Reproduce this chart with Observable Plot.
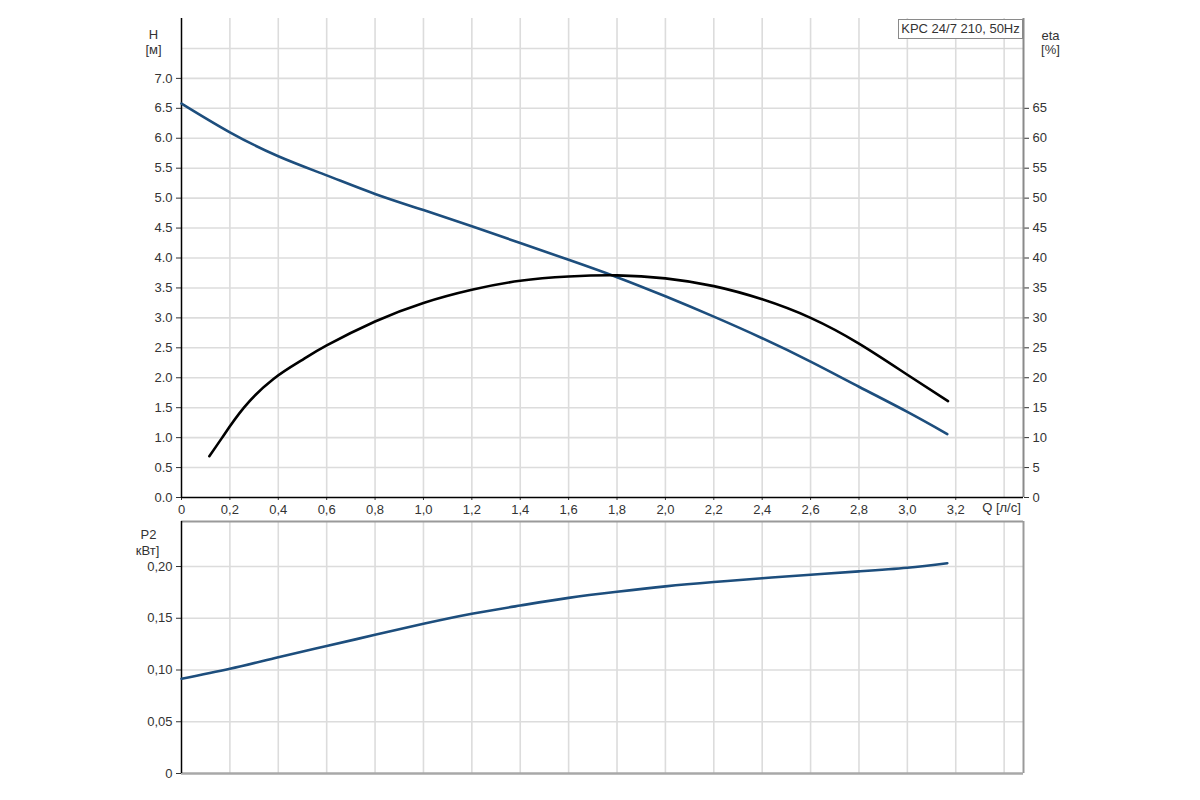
<!DOCTYPE html>
<html>
<head>
<meta charset="utf-8">
<script src="https://cdn.jsdelivr.net/npm/d3@7"></script>
<script src="https://cdn.jsdelivr.net/npm/@observablehq/plot@0.6"></script>
<style>
  html, body { margin: 0; padding: 0; background: #fff; }
  #wrap { position: relative; width: 1200px; height: 800px; font-family: "Liberation Sans", Arial, sans-serif; }
  #wrap svg { display: block; }
  #legend { position: absolute; z-index: 2; left: 898px; top: 19px; width: 125px; height: 20px; box-sizing: border-box;
    border: 1px solid #8a8a8a; background: #fff; font-size: 13px; color: #333; line-height: 18px; text-align: center; white-space: nowrap; }
</style>
</head>
<body>
<div id="wrap"><div id="legend">KPC 24/7 210, 50Hz</div></div>
<script>
// ---- data ----
const qH   = [0, 0.2, 0.4, 0.6, 0.8, 1.0, 1.2, 1.4, 1.6, 1.8, 2.0, 2.2, 2.4, 2.6, 2.8, 3.0, 3.165];
const headH = [6.58, 6.10, 5.70, 5.38, 5.07, 4.80, 4.53, 4.25, 3.97, 3.68, 3.36, 3.02, 2.66, 2.27, 1.85, 1.43, 1.06];

const qEta = [0.115, 0.168, 0.258, 0.38, 0.5, 0.6, 0.8, 1.0, 1.2, 1.4, 1.6, 1.8, 2.0, 2.2, 2.4, 2.6, 2.8, 3.0, 3.168];
const eta  = [6.9, 10.0, 15.0, 19.8, 23.0, 25.4, 29.4, 32.5, 34.7, 36.2, 36.9, 37.1, 36.6, 35.3, 33.1, 30.0, 25.7, 20.5, 16.1];

const qP2 = [0, 0.2, 0.4, 0.6, 0.8, 1.0, 1.2, 1.4, 1.6, 1.8, 2.0, 2.2, 2.4, 2.6, 2.8, 3.0, 3.165];
const p2  = [0.0915, 0.1012, 0.1124, 0.1232, 0.1340, 0.1446, 0.1543, 0.1623, 0.1697, 0.1756, 0.1808, 0.1850, 0.1887, 0.1921, 0.1953, 0.1988, 0.2032];

const qTicks   = [0, 0.2, 0.4, 0.6, 0.8, 1.0, 1.2, 1.4, 1.6, 1.8, 2.0, 2.2, 2.4, 2.6, 2.8, 3.0, 3.2];
const qGrid    = [0.2, 0.4, 0.6, 0.8, 1.0, 1.2, 1.4, 1.6, 1.8, 2.0, 2.2, 2.4, 2.6, 2.8, 3.0, 3.2, 3.4];
const hTicks   = [0, 0.5, 1.0, 1.5, 2.0, 2.5, 3.0, 3.5, 4.0, 4.5, 5.0, 5.5, 6.0, 6.5, 7.0];
const hGrid    = [0.5, 1.0, 1.5, 2.0, 2.5, 3.0, 3.5, 4.0, 4.5, 5.0, 5.5, 6.0, 6.5, 7.0, 7.5];
const etaTicks = [0, 5, 10, 15, 20, 25, 30, 35, 40, 45, 50, 55, 60, 65];
const p2Ticks  = [0, 0.05, 0.10, 0.15, 0.20];

const qMax = 3.48, hMax = 8.0, p2Max = 0.2435;
const etaPerH = 10; // eta [%] axis = H [m] * 10

const H = qH.map((q, i) => ({q, v: headH[i]}));
const E = qEta.map((q, i) => ({q, v: eta[i]}));
const P = qP2.map((q, i) => ({q, v: p2[i]}));

const comma = (d, n) => d === 0 ? "0" : d.toFixed(n).replace(".", ",");
const gridColor = "#dcdcdc";
const blue = "#1d4e7d";
const style = {fontFamily: "'Liberation Sans', Arial, sans-serif", fontSize: "13px", color: "#333", background: "#fff"};
const lbl = {fill: "#333", textAnchor: "middle", fontSize: 13};

const chartTop = Plot.plot({
  width: 1200, height: 520,
  marginLeft: 181, marginRight: 177, marginTop: 18, marginBottom: 23,
  style,
  x: {domain: [0, qMax]},
  y: {domain: [0, hMax]},
  marks: [
    Plot.gridX(qGrid, {stroke: gridColor, strokeOpacity: 1, strokeWidth: 1.6}),
    Plot.gridY(hGrid, {stroke: gridColor, strokeOpacity: 1, strokeWidth: 1.6}),
    Plot.axisX(qTicks, {tickFormat: d => comma(d, 1), tickSize: 3, tickPadding: 4, label: null}),
    Plot.axisY(hTicks, {tickFormat: d => d.toFixed(1), tickSize: 5, tickPadding: 4, label: null}),
    Plot.axisY(etaTicks.map(e => e / etaPerH), {anchor: "right", tickFormat: d => String(Math.round(d * etaPerH)), tickSize: 5, tickPadding: 4, label: null}),
    Plot.ruleX([qMax], {stroke: "#8a8a8a", strokeWidth: 2}),
    Plot.ruleX([0], {stroke: "#000", strokeWidth: 1.5}),
    Plot.ruleY([0], {stroke: "#000", strokeWidth: 1.5}),
    Plot.line(H, {x: "q", y: "v", stroke: blue, strokeWidth: 2.6, curve: "natural"}),
    Plot.line(E, {x: "q", y: d => d.v / etaPerH, stroke: "#000", strokeWidth: 2.6, curve: "natural"}),
    Plot.text(["H"], {frameAnchor: "top-left", dx: -28, dy: 11, ...lbl}),
    Plot.text(["[м]"], {frameAnchor: "top-left", dx: -28, dy: 26, ...lbl}),
    Plot.text(["eta"], {frameAnchor: "top-right", dx: 27, dy: 12, ...lbl}),
    Plot.text(["[%]"], {frameAnchor: "top-right", dx: 27, dy: 26, ...lbl}),
    Plot.text(["Q [л/с]"], {frameAnchor: "bottom-right", dx: -22, dy: 14, ...lbl})
  ]
});

const chartBottom = Plot.plot({
  width: 1200, height: 280,
  marginLeft: 181, marginRight: 177, marginTop: 1, marginBottom: 27,
  style,
  x: {domain: [0, qMax], axis: null},
  y: {domain: [0, p2Max]},
  marks: [
    Plot.gridX(qGrid, {stroke: gridColor, strokeOpacity: 1, strokeWidth: 1.6}),
    Plot.gridY(p2Ticks.filter(d => d > 0), {stroke: gridColor, strokeOpacity: 1, strokeWidth: 1.6}),
    Plot.axisY(p2Ticks, {tickFormat: d => comma(d, 2), tickSize: 5, tickPadding: 4, label: null}),
    Plot.ruleY([p2Max], {stroke: "#9a9a9a", strokeWidth: 2}),
    Plot.ruleX([qMax], {stroke: "#9a9a9a", strokeWidth: 2}),
    Plot.ruleY([0], {stroke: "#a8a8a8", strokeWidth: 2.5}),
    Plot.ruleX([0], {stroke: "#000", strokeWidth: 1.5}),
    Plot.line(P, {x: "q", y: "v", stroke: blue, strokeWidth: 2.6, curve: "natural"}),
    Plot.text(["P2"], {frameAnchor: "top-left", dx: -33, dy: 8, ...lbl}),
    Plot.text(["кВт]"], {frameAnchor: "top-left", dx: -34, dy: 24, ...lbl})
  ]
});

const wrap = document.getElementById("wrap");
wrap.appendChild(chartTop);
wrap.appendChild(chartBottom);
</script>
</body>
</html>
